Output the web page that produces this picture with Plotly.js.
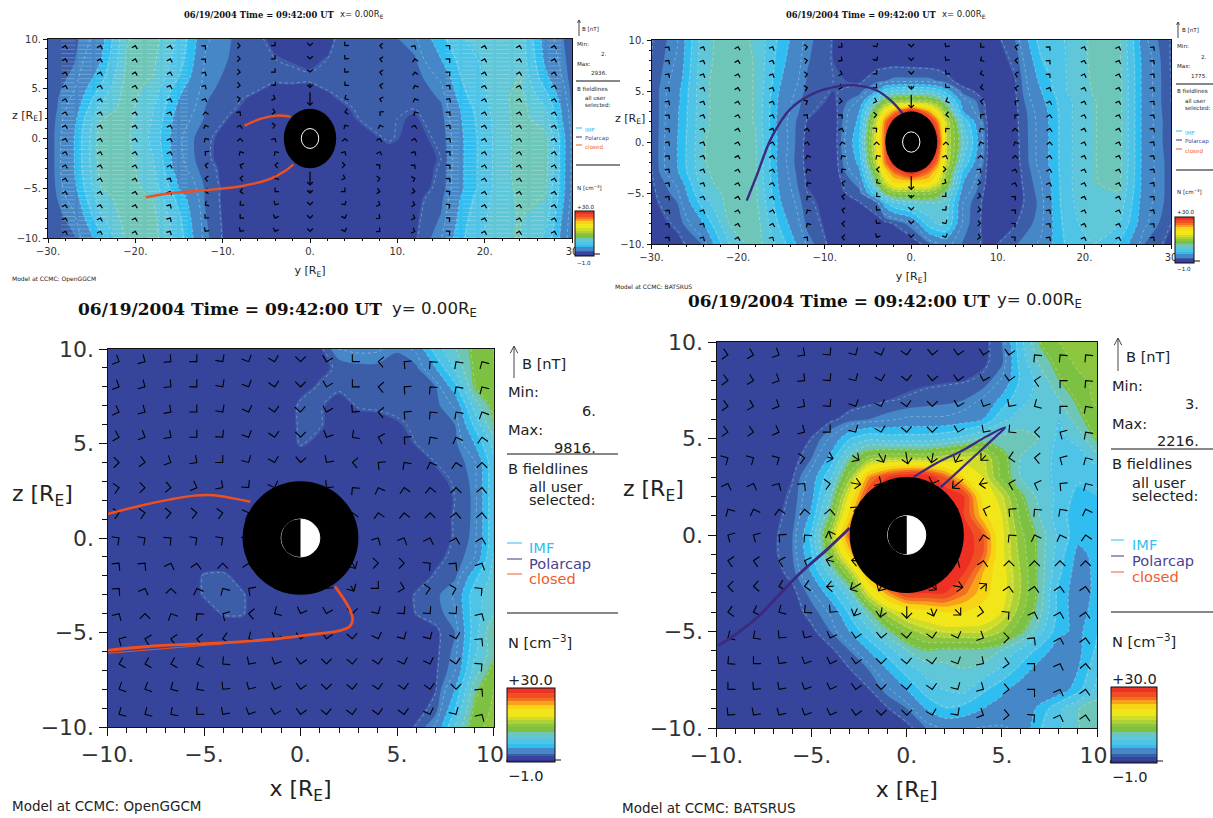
<!DOCTYPE html>
<html><head><meta charset="utf-8">
<script src="https://cdn.plot.ly/plotly-3.0.1.min.js"></script>
<style>html,body{margin:0;padding:0;background:#fff}</style></head>
<body><div id="chart" style="width:1213px;height:818px"></div>
<script>
const W=1213,H=818;
/* density N; disc interior hidden */
const sideX=[-10,-9,-8,-7,-6,-5,-4,-3,-2,-1,0,1,2,3,4,5,6,7,8,9,10];
const sideZ=[10,9,8,7,6,5,4,3,2,1,0,-1,-2,-3,-4,-5,-6,-7,-8,-9,-10];
const noseY=[-30,-27,-24,-21,-18,-15,-12,-9,-6,-4,-3,-2,0,2,3,4,6,9,12,15,18,21,24,27,30];
const noseZ=[10,8,6,5,4,3,2,0,-2,-3,-4,-5,-6,-8,-10];
const densityBL=[
[.6,.6,.6,.6,.6,.6,.6,.6,.6,.6,.8,1.3,3.4,3.6,3.5,2.6,3.6,7.5,10,12.2,13.5],
[.6,.6,.6,.6,.6,.6,.6,.6,.6,.6,.8,1.2,1.8,2.2,2.2,2.1,2.3,5,8.8,12,13.5],
[.6,.6,.6,.6,.6,.6,.6,.6,.6,.6,1.1,1.7,1.8,1.9,1.9,1.9,2,2.5,6,11.7,13],
[.6,.6,.6,.6,.6,.6,.6,.6,.6,.6,1.8,1.7,1,1.7,1.8,1.9,2,2.2,3.5,9,12.5],
[.6,.6,.6,.6,.6,.6,.6,.6,.6,.6,1.8,1.7,.9,.9,1,1.4,1.8,2,2.5,7,11.7],
[.6,.6,.6,.6,.6,.6,.6,.6,.6,.6,1.7,1.2,.7,.7,.8,1,1.6,1.9,2.2,5,9],
[.6,.6,.6,.6,.6,.6,.6,.6,.6,.6,.7,.7,.7,.7,.7,.8,1,1.6,2,3,8],
[.6,.6,.6,.6,.6,.6,.6,.6,.6,.6,.7,.7,.7,.7,.7,.7,.8,1.2,1.7,2.8,8],
[.6,.6,.6,.6,.6,.6,.6,.6,.6,.6,.7,.7,.7,.7,.7,.7,.7,.8,1.6,2.7,8],
[.6,.6,.6,.6,.6,.6,.6,.6,.6,.6,.7,.7,.7,.7,.7,.7,.7,.8,1.7,2.7,8],
[.6,.6,.6,.6,.6,.6,.6,.6,.6,.6,.7,.7,.7,.7,.7,.7,.7,.8,1.7,2.8,8],
[.6,.6,.6,.6,.6,.6,.6,.6,.6,.6,.7,.7,.7,.7,.7,.7,.7,1.2,1.9,3.2,8.5],
[.6,.6,.6,.6,.6,1.7,1.8,1,.6,.6,.7,.7,.7,.7,.7,.7,.9,1.7,2.2,6,9],
[.6,.6,.6,.6,.6,1.7,1.9,1.7,.6,.6,.7,.7,.7,.7,.7,.7,1.7,2.2,3.5,7.5,9.5],
[.6,.6,.6,.6,.6,.8,1.7,1.7,.6,.6,.7,.7,.7,.7,.7,.7,1.6,2,3.2,7.5,10],
[.6,.6,.6,.6,.6,.6,.6,.6,.6,.6,.7,.7,.7,.7,.7,.7,.8,1.3,2.5,7.5,11.7],
[.6,.6,.6,.6,.6,.6,.6,.6,.6,.6,.7,.7,.7,.7,.7,.7,.8,1.3,2.8,8,11],
[.6,.6,.6,.6,.6,.6,.6,.6,.6,.6,.7,.7,.7,.7,.7,.7,.8,1.4,3.2,9,12.5],
[.6,.6,.6,.6,.6,.6,.6,.6,.6,.6,.7,.7,.7,.7,.7,.7,.8,1.5,5,11,13.5],
[.6,.6,.6,.6,.6,.6,.6,.6,.6,.6,.7,.7,.7,.7,.7,.7,1,2,6.5,12,13.8],
[.6,.6,.6,.6,.6,.6,.6,.6,.6,.6,.7,.7,.7,.7,.7,.7,1.7,3.5,8.5,13,14]];
const densityBR=[
[.5,.5,.5,.5,.5,.5,.5,.5,.5,.5,.6,1,1,1,1.1,2.5,8,11.8,13.5,14,14],
[.5,.5,.5,.5,.5,.5,.5,.5,.5,.6,1,1,1.1,1.2,1.3,2.2,7.5,10.5,12.5,14,14],
[.5,.5,.5,.5,.5,.5,.5,.6,.9,1.1,1.2,1.3,1.4,1.5,1.8,3.5,7,9,11.5,13,14],
[.5,.5,.5,.5,.5,.5,.7,1,1.2,1.5,1.7,2,2.2,2.5,3.5,5.5,8,9,10,12,14],
[.5,.5,.5,.5,.6,.9,1.3,2,2.5,3,3.5,3.5,3.5,4,5,8,9,9,8.5,11,13],
[.5,.5,.5,.6,.8,1.6,3.5,6.5,8,7.5,7.5,7.5,8,9,10.5,10.5,11,10,8,9,12],
[.5,.5,.5,.6,1,2.5,5.5,11,14,15,15,15,16,17,17,12.5,10,9,8,7.5,9.5],
[.5,.5,.6,.8,1.5,4,8,14.5,24,28,30,30,26,21,18,13,10,9,8,7,7],
[.5,.5,.7,1,1.8,4.5,10,19,28,30,30,30,30,28,20,17,12,9.5,8,6,6.5],
[.5,.5,.8,1.2,2,5.5,12,22,30,30,30,30,30,28,22,18,13,10,7.5,5.5,6],
[.5,.6,.8,1.3,2.5,7,15,26,30,30,30,30,30,30,26,18.5,14,11,8,5.5,5.5],
[.5,.6,.8,1.3,2.5,6.5,13,22,30,30,30,30,30,30,26,18.5,14.5,11,7.5,4.5,5.5],
[.5,.5,.7,1,2,5,9,15,24,30,30,30,30,28,23,19,15,11,7,4,5.5],
[.5,.5,.6,.8,1.2,3,6,9.5,18,24,28,28,28,25,22,19,15,11,6,4,5.5],
[.5,.5,.5,.6,1,2,3.5,7,11,16,19,20,21,21,20,18,14,10.5,6,4,6],
[.5,.5,.5,.5,.7,1.3,2.5,5,8,11,14,16,17,17,17,15,12,9,5.5,4.5,6.5],
[.5,.5,.5,.5,.6,.8,1.3,2.5,5,7.5,10,11.5,11,11,11,10,8,6,4,4.5,7],
[.5,.5,.5,.5,.5,.6,.9,1.5,2.5,5,7.5,9,9.5,10,9.5,8,6,4,3.5,5,8],
[.5,.5,.5,.5,.5,.5,.6,1,1.5,3,5,7.5,8.5,9,7,5.5,4,3.5,3.8,6,9],
[.5,.5,.5,.5,.5,.5,.5,.6,1,1.5,2.5,5,6.5,6,5,4,3.5,5.5,8,10,11],
[.5,.5,.5,.5,.5,.5,.5,.5,.6,.8,1.2,2.5,3.5,3.5,3.2,3.2,3.5,6.5,8,10,11]];
const densityTL=[
[1.8,2.2,4,10,10.8,8,3.5,2.5,1.8,1.2,1,.9,.9,1,1.7,2,2,2.2,3,6.2,8.5,9,9.5,4,1.8],
[1.8,2.4,4.8,10.2,10.5,7.5,3.2,2.4,1.9,1.6,1.5,1.4,1.2,1.6,1.8,1.9,2,1.9,2.4,5,8,9,9.8,4.5,1.9],
[1.8,2.8,6,10.6,10,6.5,2.9,2.2,1.9,1.8,1.9,1.9,1.8,1.9,1.8,1.8,1.8,1.8,2,3.5,7.5,9,10.2,5.5,2],
[1.8,3.2,7,10.8,9.5,5.5,2.8,2,1.7,1.2,1.2,1.2,1.2,1.7,1.8,1.8,1.8,1.7,1.8,3,7,9,10.5,6.5,2.1],
[1.8,3.6,8,10.8,9,5,2.6,1.9,1.2,.9,.9,.9,.9,1,1.5,1.7,1.8,1.7,1.8,2.6,6.5,9,10.8,7.5,2.2],
[1.7,4,9,10.8,8.5,4.5,2.5,1.7,1,.9,.9,.9,.9,.9,1.1,1.4,1.8,1.7,1.6,2.3,6,8.8,10.8,8.5,2.4],
[1.7,4.5,10,10.7,8.3,4,2.4,1.4,.9,.9,.9,.9,.9,.9,1,1.2,1.7,1.7,1.4,2.1,5.8,8.6,10.8,9,2.6],
[1.7,5,10.8,10.4,8,3.5,1.8,1,.8,.8,.8,.8,.8,.8,.8,.9,1.1,1.7,1.2,1.8,5.5,8.5,10.8,10.6,3],
[1.7,5,10.8,10.7,8.5,3.6,1.8,.9,.8,.8,.8,.8,.8,.8,.8,.8,.9,1,1,1.6,5.5,8.5,10.8,10.6,3],
[1.7,5,10.6,10.8,8.8,3.8,2,1,.8,.8,.8,.8,.8,.8,.8,.8,.8,.9,1,1.7,5.5,8.5,10.8,10.6,3],
[1.7,4.8,10.4,10.8,9,4.5,2.2,.9,.8,.8,.8,.8,.8,.8,.8,.8,.8,.8,.9,1.8,5.5,8.5,10.8,10.4,3],
[1.7,4.5,10,10.8,9.5,5,2.4,.9,.8,.8,.8,.8,.8,.8,.8,.8,.8,.8,1,1.9,5.5,8.5,10.6,10.2,3],
[1.7,4,9.5,10.8,10,6,2.4,.9,.8,.8,.8,.8,.8,.8,.8,.8,.8,.8,1.2,2.2,6,8.8,10.4,10,2.8],
[1.7,3,8,10.8,10.6,7,2.6,.9,.8,.8,.8,.8,.8,.8,.8,.8,.8,.8,1.3,2.6,6.5,9,10.2,9,2.4],
[1.7,2.4,6,10.5,10.8,7.5,2.8,.9,.8,.8,.8,.8,.8,.8,.8,.8,.8,.8,1.4,3.2,7,9.5,10.2,8,2.2]];
const densityTR=[
[1.5,3.2,9.5,11,9.8,6,2.8,1.5,1,1,1,.9,.8,.8,.8,.8,.8,.8,2.5,7.5,8.5,10.5,10.5,3.5,1.5],
[1.6,3.5,9.6,11,10,5.5,2.6,1.5,1.1,1,1,1,.9,.8,.8,.8,.8,.8,1.8,6.5,8.5,10.5,10.5,4,1.5],
[1.7,4,9.8,11,10,5,2.4,1.6,1.4,2.2,2.5,2.8,2.8,2.8,2.5,2,1,.8,1.5,5.5,8.5,10.3,10.8,4,1.6],
[1.7,4.5,9.8,11,10,4.5,2.2,1.5,2,5,7.5,8.5,9,8.5,7.5,6,2,.9,1.5,5,8.5,10.2,10.8,4,1.6],
[1.7,4.5,9.8,11,10,4.2,2,1.3,3.5,10,13,14,14,14,13,10,4,1,1.4,4.5,8,10,10.8,4,1.6],
[1.6,4.8,9.8,11,10,4,1.8,1,5,14,20,24,30,24,19,14,5,1,1.3,4,8,10,10.8,4,1.7],
[1.6,4.8,9.8,11,10,3.8,1.5,.9,5.5,17,25,30,30,30,25,17,8,1,1.3,3.8,8,10,10.8,4,1.8],
[1.6,5,10,11,10.3,4,1.2,.8,6.5,18.5,26,30,30,30,30,17,10,1,1.2,3.8,8,10,10.8,4,1.8],
[1.6,5,10,11,10.3,3.8,1.2,.8,5.5,17,25,30,30,30,25,17,8,1,1.1,3.8,8,10,10.8,4,2],
[1.5,4.8,9.8,11,10.3,4,1.3,.8,4.5,14,21,25,30,25,21,15,6,1,1,3.5,8,10,10.6,4,2],
[1.4,3.6,9.5,11,10.3,4.2,1.4,.9,3,12,17,21,21,21,18,14,5,1,1,3.2,8,10,10.5,4,2],
[1.3,3,8.5,10.8,10.5,4.5,1.6,1,2.2,8,12,14,14,14,13,11,4,.9,.9,3,8,9.8,10,4,2],
[1.2,2.5,7.5,10.8,10.6,5,1.8,1,1.5,2.5,6,8,9.5,10,10,9.5,3.2,.9,1,2.8,8,9.5,9.5,3.8,2],
[1,1.8,5,10.2,11,6,2.2,1,.9,.9,1.2,1.6,3,7.5,8.5,8.5,3,.9,1.5,3,7.5,9.5,8.5,3.5,1.6],
[.9,1.2,2.6,8.5,11,7.5,3,1.1,.8,.8,.8,.8,.8,2.2,3,3.8,2.4,1.2,2.4,3.5,7,8.5,6.5,2.4,1.2]];
/* field direction in degrees, 15 by 15 */
const arrowsTL=[
[75,75,75,75,50,0,-45,-90,-130,175,60,45,75,75,75],
[75,75,75,75,50,-5,-45,-90,-130,170,100,45,75,75,75],
[75,75,75,75,60,-5,-45,-90,-130,170,100,45,75,75,75],
[75,75,75,70,60,-5,-50,-90,-135,170,110,50,75,75,75],
[75,75,75,70,70,10,-20,-90,-150,160,110,55,75,75,75],
[75,75,75,70,100,50,-10,-90,-170,140,120,50,75,75,75],
[75,75,75,75,110,75,10,90,120,110,75,55,75,75,75],
[75,75,75,75,120,90,60,90,90,75,75,55,75,75,75],
[75,75,75,75,140,120,125,-90,60,75,60,50,75,75,75],
[75,75,75,75,170,160,175,-90,0,40,50,50,75,75,75],
[75,75,75,60,170,175,-150,-90,-20,10,20,50,75,75,75],
[75,75,75,65,-170,-170,-135,-90,-45,-10,-10,40,75,75,75],
[75,75,75,60,-150,-140,-120,-90,-60,-25,-15,35,75,75,75],
[75,75,75,60,-130,-135,-110,-90,-70,-35,-20,40,75,75,75],
[75,75,75,60,-125,-125,-110,-90,-70,-40,-20,40,75,75,75]];
const arrowsTR=[
[55,65,75,65,10,-40,-60,-90,-120,-140,170,50,70,70,55],
[55,65,75,65,10,-35,-60,-90,-125,-150,175,50,70,70,55],
[55,65,75,65,10,-20,-50,-90,-130,-160,170,50,70,70,55],
[55,65,75,65,15,-20,-40,-90,-130,-170,165,65,70,70,55],
[55,65,75,70,25,-5,-15,-90,-160,170,145,75,70,70,55],
[55,65,75,70,50,50,5,-90,-175,140,130,80,70,70,55],
[55,65,75,70,80,70,40,90,130,120,90,80,70,70,55],
[55,65,75,75,80,100,90,90,90,110,110,85,70,70,55],
[55,65,75,75,110,120,125,-90,70,90,90,80,70,70,55],
[55,65,75,75,115,130,175,-90,0,50,75,75,70,70,55],
[55,65,75,75,125,165,-145,-90,-30,-10,70,70,70,70,55],
[55,65,75,70,125,170,-140,-90,-45,-15,50,60,70,70,55],
[60,65,75,75,120,170,-130,-90,-50,-10,50,55,70,70,55],
[55,60,75,75,120,175,-125,-90,-60,-5,40,55,70,70,55],
[55,60,75,60,50,175,-120,-90,-65,-10,40,55,70,70,55]];
const arrowsBL=[
[-25,-30,-40,-45,-55,-65,-75,-90,-105,-135,175,140,130,125,120],
[-25,-30,-40,-45,-55,-65,-80,-90,-105,-135,175,140,130,125,120],
[-20,-30,-35,-45,-55,-70,-80,-85,-105,-130,175,140,130,125,115],
[-15,-25,-35,-45,-50,-65,-80,-90,-115,-145,165,140,125,110,100],
[0,-10,-25,-35,-45,-60,-75,-95,-125,175,140,125,110,100,90],
[10,0,-5,-20,-35,-50,-70,-90,-130,130,110,100,95,90,85],
[10,10,5,5,10,20,0,0,0,100,100,95,90,85,85],
[35,35,40,35,35,40,0,0,0,60,60,65,70,75,75],
[50,50,70,80,90,80,0,0,0,-60,0,0,40,50,65],
[50,70,90,110,120,145,-150,-100,-130,-60,-45,-15,10,15,40],
[60,90,115,130,150,175,-150,-110,-105,-90,-60,-50,-50,-50,60],
[150,165,170,175,-170,-150,-115,-100,-100,-85,-70,-60,-60,-75,50],
[-165,-165,-165,-160,-140,-125,-115,-100,-90,-85,-80,-70,-70,-80,40],
[-155,-155,-150,-145,-130,-120,-110,-100,-90,-85,-80,-80,-80,-90,50],
[-150,-150,-145,-135,-125,-115,-105,-100,-85,-80,-80,-80,-70,-60,60]];
const arrowsBR=[
[-10,-15,-25,-35,-50,-60,-70,-80,-95,-100,-100,-100,130,130,130],
[-10,-15,-25,-40,-50,-60,-75,-85,-95,-100,-105,-100,170,135,130],
[-10,-15,-25,-35,-50,-65,-70,-80,-90,-105,-115,-125,-150,135,125],
[-10,-10,-20,-30,-45,-60,-75,-85,-90,-105,-125,-140,180,150,125],
[30,30,30,10,-15,-35,-60,-80,-100,-120,-135,-170,175,150,120],
[70,70,60,50,10,-10,-30,-90,-110,-140,-170,165,160,140,120],
[120,110,100,95,85,50,0,0,0,0,160,140,130,125,110],
[150,150,140,130,110,100,0,0,0,0,100,130,110,110,100],
[170,170,165,160,165,175,0,0,0,60,80,90,90,90,90],
[180,-175,-165,-170,-175,-150,-120,-90,-40,-10,40,80,80,80,80],
[-170,-160,-150,-140,-130,-115,-100,-90,-70,-45,-10,40,70,75,80],
[-150,-145,-130,-120,-110,-100,-95,-85,-80,-70,-25,0,50,75,80],
[-140,-135,-125,-115,-110,-100,-90,-85,-80,-65,-35,-10,45,70,85],
[-135,-130,-125,-115,-110,-100,-90,-85,-80,-60,-30,-5,45,70,80],
[-130,-125,-120,-115,-110,-100,-90,-90,-75,-55,-25,-5,40,70,80]];
/* shafts: row, column, length in screen pixels */
const shaftsTL=[[4,7,13],[3,7,4],[10,7,13],[11,7,3]];
const shaftsTR=[[4,7,13],[3,7,3],[10,7,13],[11,7,3]];
const shaftsBL=[[8,9,12],[9,9,6]];
const shaftsBR=[[4,4,6],[4,5,8],[4,6,10],[4,7,12],[4,8,10],[4,9,10],[4,10,7],[5,5,10],[5,9,14],[5,10,8],[6,5,6],[7,4,8],[8,4,8],[8,5,8],[9,4,7],[9,5,12],[9,6,10],[9,8,10],[9,9,10],[9,10,8],[10,5,8],[10,6,10],[10,7,12],[10,8,8],[10,9,8]];
/* field lines */
const closedTLa=[-18.8,-16,-12,-7.9,-4.7,-2.9,-1.9], closedTLb=[-5.9,-5.5,-5.2,-4.8,-4.1,-3.3,-2.6];
const closedTLc=[-7.5,-5.6,-3.8,-2.2], closedTLd=[1.3,2,2.3,2.2];
const polarTRa=[-19,-17.9,-16.1,-13.9,-11.2,-8.1,-6.4,-4.1,-2.4,-1], polarTRb=[-5.75,-3.4,.5,3.3,4.8,5.5,5.55,5.1,4.1,2.8];
const closedBLa=[-10,-8.4,-6.8,-5.5,-4.5,-3.5,-2.6], closedBLb=[1.27,1.68,2.03,2.24,2.26,2.1,1.92];
const closedBLc=[-10,-7.4,-4.1,-1.2,.8,2.05,2.56,2.7,2.56,2.15,1.78], closedBLd=[-5.94,-5.7,-5.55,-5.33,-5.08,-4.9,-4.67,-4.32,-3.8,-3.09,-2.56];
const closedBLe=[-10,-7,-4], closedBLf=[-6.1,-5.85,-5.6];
const polarBRa=[-9.9,-8.9,-7.7,-6.5,-5.5,-4.3,-3], polarBRb=[-5.73,-5.08,-4.13,-2.88,-1.88,-.85,.36];
const polarBRc=[.36,1.58,3,4.2,5.17,4.6,3.8,2.8,1.78], polarBRd=[3,3.73,4.42,5.11,5.58,5.03,4.3,3.39,2.47];
/* colour bands: upper value of each band and its colour */
const bandTop=[0,1.6,2.7,4.9,6.7,8.5,10.2,11.7,13.5,15,16.5,18,21,23,24.5,26,28,30];
const bandCol=['#2e3192','#36459b','#3c5ea9','#4688c7','#30bdf0','#4fc4e6','#60c7d8','#6ec6b8','#7cc142','#8cc63f','#aed136','#cfdc2a','#f0e619','#f7d414','#f9a11b','#f36f23','#f04e23','#ee3124'];
const timeText='06/19/2004 Time = 09:42:00 UT';
const majorTicks=[-10,-5,0,5,10], sideLabels=['−10.','−5.','0.','5.','10.'];
const noseTicks=[-30,-20,-10,0,10,20,30], noseLabels=['−30.','−20.','−10.','0.','10.','20.','30'];
/* contour staircase hatching in the upper left panel: y spans */
const hatchSpans=[[-28.5,-14],[15.5,29]];

const scale=[];let lo=-1;
bandTop.forEach((t,i)=>{scale.push([(lo+1)/31,bandCol[i]]);scale.push([(t+1)/31,bandCol[i]]);lo=t;});

const panels=[
 {id:'',L:48,R:572,T:39,B:238,xs:noseY,zs:noseZ,d:densityTL,a:arrowsTL,sh:shaftsTL,gx0:-28,gdx:4,xr:[-30,30],arm:4,tf:10,cb:[575,594,211,256],
  tv:noseTicks,tt:noseLabels,minor:2,xt:'y [R<sub>E</sub>]',stand:10,tlen:4,mlen:2},
 {id:'2',L:651.5,R:1171,T:40,B:244,xs:noseY,zs:noseZ,d:densityTR,a:arrowsTR,sh:shaftsTR,gx0:-28,gdx:4,xr:[-30,30],arm:4,tf:10,cb:[1175,1194,217,263],
  tv:noseTicks,tt:noseLabels,minor:2,xt:'y [R<sub>E</sub>]',stand:10,tlen:4,mlen:2},
 {id:'3',L:107.5,R:493.5,T:349,B:727,xs:sideX,zs:sideZ,d:densityBL,a:arrowsBL,sh:shaftsBL,gx0:-9.4,gdx:1.343,xr:[-10,10],arm:7.5,tf:22,cb:[507,555,688,762],
  tv:majorTicks,tt:sideLabels,minor:1,xt:'x [R<sub>E</sub>]',stand:14,tlen:8,mlen:5},
 {id:'4',L:716.5,R:1097,T:342,B:728,xs:sideX,zs:sideZ,d:densityBR,a:arrowsBR,sh:shaftsBR,gx0:-9.4,gdx:1.343,xr:[-10,10],arm:7.5,tf:22,cb:[1111,1157,687,763],
  tv:majorTicks,tt:sideLabels,minor:1,xt:'x [R<sub>E</sub>]',stand:14,tlen:8,mlen:5}];

const data=[],layout={width:W,height:H,margin:{l:0,r:0,t:0,b:0},paper_bgcolor:'#fff',plot_bgcolor:'#36459b',showlegend:false,shapes:[],annotations:[],
 font:{family:'DejaVu Sans',color:'#222'}};
const A=(x,y,text,size,opt={})=>layout.annotations.push(Object.assign({xref:'paper',yref:'paper',x:x/W,y:1-y/H,text,showarrow:false,xanchor:'left',yanchor:'middle',font:{size,family:'DejaVu Sans',color:'#222'},borderpad:0},opt));
const S=(x0,y0,x1,y1,c='#000',w=1)=>layout.shapes.push({type:'line',xref:'paper',yref:'paper',x0:x0/W,x1:x1/W,y0:1-y0/H,y1:1-y1/H,line:{color:c,width:w}});

panels.forEach(p=>{
 const xa='x'+p.id, ya='y'+p.id, xk='xaxis'+p.id, yk='yaxis'+p.id;
 const big=p.arm>5;
 const axis={showgrid:false,zeroline:false,showline:true,mirror:true,linecolor:'#111',linewidth:1,ticks:'outside',tickcolor:'#111',ticklen:p.tlen,tickmode:'array',
   tickfont:{family:'DejaVu Sans',size:p.tf,color:'#333'},minor:{dtick:p.minor,ticks:'outside',ticklen:p.mlen,tickcolor:'#111',showgrid:false},automargin:false};
 layout[xk]=Object.assign({},axis,{domain:[p.L/W,p.R/W],range:p.xr,anchor:ya,tickvals:p.tv,ticktext:p.tt,title:{text:p.xt,standoff:p.stand,font:{family:'DejaVu Sans',size:big?22:11,color:'#222'}}});
 layout[yk]=Object.assign({},axis,{domain:[1-p.B/H,1-p.T/H],range:[-10,10],anchor:xa,tickvals:majorTicks,ticktext:sideLabels,minor:{dtick:1,ticks:'outside',ticklen:p.mlen,tickcolor:'#111',showgrid:false}});
 data.push({type:'contour',x:p.xs,y:p.zs,z:p.d,xaxis:xa,yaxis:ya,colorscale:scale,zauto:false,zmin:-1,zmax:30,autocontour:false,
   contours:{coloring:'fill',start:-1,end:30,size:.5},line:{width:0,smoothing:.8},hoverinfo:'skip',
   colorbar:{x:p.cb[0]/W,xanchor:'left',y:1-p.cb[3]/H,yanchor:'bottom',lenmode:'pixels',len:p.cb[3]-p.cb[2],thicknessmode:'pixels',thickness:p.cb[1]-p.cb[0],xpad:0,ypad:0,ticks:'',showticklabels:false,outlinecolor:'#111',outlinewidth:1,borderwidth:0}});
 data.push({type:'contour',x:p.xs,y:p.zs,z:p.d,xaxis:xa,yaxis:ya,showscale:false,autocontour:false,
   contours:{coloring:'none',start:1.6,end:17,size:1.7},line:{color:'rgba(255,255,255,.3)',width:1,dash:'dot',smoothing:.8},hoverinfo:'skip'});
 if(p.id===''){
   const hx=[],hz=[];
   for(let z=9.8;z>-10;z-=.42) hatchSpans.forEach(s=>{hx.push(s[0],s[1],null);hz.push(z,z,null);});
   data.push({type:'scatter',mode:'lines',x:hx,y:hz,xaxis:xa,yaxis:ya,line:{color:'rgba(255,255,255,.22)',width:1,dash:'14px,3px'},hoverinfo:'skip'});
 }
 /* chevrons */
 const ux=(p.R-p.L)/(p.xr[1]-p.xr[0]), uz=(p.B-p.T)/20, ax=[],az=[];
 p.a.forEach((row,r)=>row.forEach((deg,c)=>{
   const cx=p.gx0+c*p.gdx, cz=9.33-r*1.333, t=deg*Math.PI/180;
   const sh=p.sh.find(s=>s[0]===r&&s[1]===c), len=sh?sh[2]:0;
   const hx=cx+len/2*Math.cos(t)/ux, hz=cz+len/2*Math.sin(t)/uz;
   ax.push(hx+p.arm*Math.cos(t+Math.PI*.75)/ux,hx,hx+p.arm*Math.cos(t-Math.PI*.75)/ux,null);
   az.push(hz+p.arm*Math.sin(t+Math.PI*.75)/uz,hz,hz+p.arm*Math.sin(t-Math.PI*.75)/uz,null);
   if(len){ax.push(hx,cx-len/2*Math.cos(t)/ux,null);az.push(hz,cz-len/2*Math.sin(t)/uz,null);}
 }));
 data.push({type:'scatter',mode:'lines',x:ax,y:az,xaxis:xa,yaxis:ya,line:{color:'#000',width:big?1.1:1.2},hoverinfo:'skip'});
 /* disc and Earth */
 const c=(r,fill,line)=>layout.shapes.push({type:'circle',xref:xa,yref:ya,x0:-r,x1:r,y0:-r,y1:r,fillcolor:fill,line:line?{color:line,width:1}:{width:0},layer:'above'});
 c(3,'#000');
 if(big){c(1,'#fff','#fff');
  layout.shapes.push({type:'path',xref:xa,yref:ya,path:'M0,1 C-1.333,1 -1.333,-1 0,-1 Z',fillcolor:'#000',line:{width:0},layer:'above'});
 } else c(1,'#000','#fff');
});
const line=(x,y,xa,ya,col,w)=>data.push({type:'scatter',mode:'lines',x,y,xaxis:xa,yaxis:ya,line:{color:col,width:w,shape:'spline'},hoverinfo:'skip'});
const ORANGE='#f0501e',PURPLE='#3b2a7e';
line(closedTLa,closedTLb,'x','y',ORANGE,2.4);line(closedTLc,closedTLd,'x','y',ORANGE,2.4);
line(polarTRa,polarTRb,'x2','y2',PURPLE,2.4);
line(closedBLa,closedBLb,'x3','y3',ORANGE,2.4);line(closedBLc,closedBLd,'x3','y3',ORANGE,2.8);line(closedBLe,closedBLf,'x3','y3',ORANGE,1);
line(polarBRa,polarBRb,'x4','y4',PURPLE,2.8);line(polarBRc,polarBRd,'x4','y4',PURPLE,2.2);

/* text blocks */
const block=(o)=>{
 const s=o.s;
 S(o.ax,o.ay1,o.ax,o.ay0,'#444',1);S(o.ax,o.ay0,o.ax-s*.26,o.ay0+s*.5,'#444',1);S(o.ax,o.ay0,o.ax+s*.26,o.ay0+s*.5,'#444',1);
 A(o.bx,o.by,'B [nT]',s);A(o.l,o.minY,'Min:',s);A(o.rr,o.minV,o.min,s,{xanchor:'right'});A(o.l,o.maxY,'Max:',s);A(o.rr,o.maxV,o.max,s,{xanchor:'right'});
 S(o.l,o.h1,o.hr,o.h1,'#111',1);A(o.l,o.fl,'B fieldlines',s);A(o.i,o.au,'all user',s);A(o.i,o.se,'selected:',s);
 A(o.i,o.imf,'IMF',s,{font:{size:s,family:'DejaVu Sans',color:'#33bdf0'}});A(o.i,o.pol,'Polarcap',s,{font:{size:s,family:'DejaVu Sans',color:'#4b3f92'}});A(o.i,o.clo,'closed',s,{font:{size:s,family:'DejaVu Sans',color:'#f15a29'}});
 S(o.l,o.imf-o.dl,o.ll,o.imf-o.dl,'#33bdf0',1);S(o.l,o.pol-o.dl,o.ll,o.pol-o.dl,'#43307f',1);S(o.l,o.clo-o.dl,o.ll,o.clo-o.dl,'#f15a29',1);
 S(o.l,o.h2,o.hr,o.h2,'#111',1);A(o.l,o.n,'N [cm<sup>−3</sup>]',s);A(o.l,o.p30,'+30.0',s);A(o.l,o.m1,'−1.0',s);
 S(o.cr,o.tk,o.cr+o.tl,o.tk,'#111',1);
};
block({s:14.6,ax:514,ay0:346,ay1:378,bx:521,by:363,l:507,rr:597,minY:391,minV:410,maxY:429,maxV:447,min:'6.',max:'9816.',h1:454,hr:618,fl:468,i:528,au:486,se:499,imf:547,pol:563,clo:578,dl:4,ll:522,h2:613,n:642,p30:679,m1:775,cr:555,tk:760,tl:6});
block({s:14.6,ax:1118,ay0:338,ay1:371,bx:1125,by:356,l:1111,rr:1200,minY:385,minV:404,maxY:423,maxV:441,min:'3.',max:'2216.',h1:449,hr:1213,fl:464,i:1131,au:482,se:495,imf:544,pol:560,clo:576,dl:4,ll:1124,h2:612,n:641,p30:678,m1:776,cr:1157,tk:761,tl:6});
block({s:5.6,ax:579,ay0:20,ay1:36,bx:581,by:29,l:576,rr:608,minY:44,minV:54,maxY:64,maxV:73,min:'2.',max:'2936.',h1:81,hr:620,fl:89,i:584,au:98,se:105,imf:130,pol:139,clo:147,dl:2,ll:582,h2:165,n:187,p30:207,m1:263,cr:594,tk:254,tl:6});
block({s:5.6,ax:1178,ay0:22,ay1:38,bx:1181,by:30,l:1176,rr:1208,minY:46,minV:57,maxY:66,maxV:76,min:'2.',max:'1775.',h1:84,hr:1213,fl:91,i:1184,au:101,se:108,imf:133,pol:142,clo:151,dl:2,ll:1182,h2:170,n:192,p30:212,m1:269,cr:1194,tk:261,tl:6});

const serif={family:'DejaVu Serif',color:'#111'};
A(183,15,'<b>'+timeText+'</b>',8.4,{font:Object.assign({size:8.4},serif)});A(339,15,'x= 0.00R<sub>E</sub>',8.5);
A(785,15,'<b>'+timeText+'</b>',8.4,{font:Object.assign({size:8.4},serif)});A(941,15,'x= 0.00R<sub>E</sub>',8.5);
A(77,309,'<b>'+timeText+'</b>',17,{font:Object.assign({size:17},serif)});A(391,309,'y= 0.00R<sub>E</sub>',16.6);
A(687,301,'<b>'+timeText+'</b>',16.9,{font:Object.assign({size:16.9},serif)});A(996,301,'y= 0.00R<sub>E</sub>',16.6);
A(11,116,'z [R<sub>E</sub>]',11);A(614,119,'z [R<sub>E</sub>]',11);A(11,495,'z [R<sub>E</sub>]',22);A(622,490,'z [R<sub>E</sub>]',22);
A(11,279,'Model at CCMC: OpenGGCM',6);A(614,286,'Model at CCMC: BATSRUS',6);A(11,806,'Model at CCMC: OpenGGCM',13.5);A(621,808,'Model at CCMC: BATSRUS',13.5);

Plotly.newPlot('chart',data,layout,{displayModeBar:false,responsive:false});
</script></body></html>
